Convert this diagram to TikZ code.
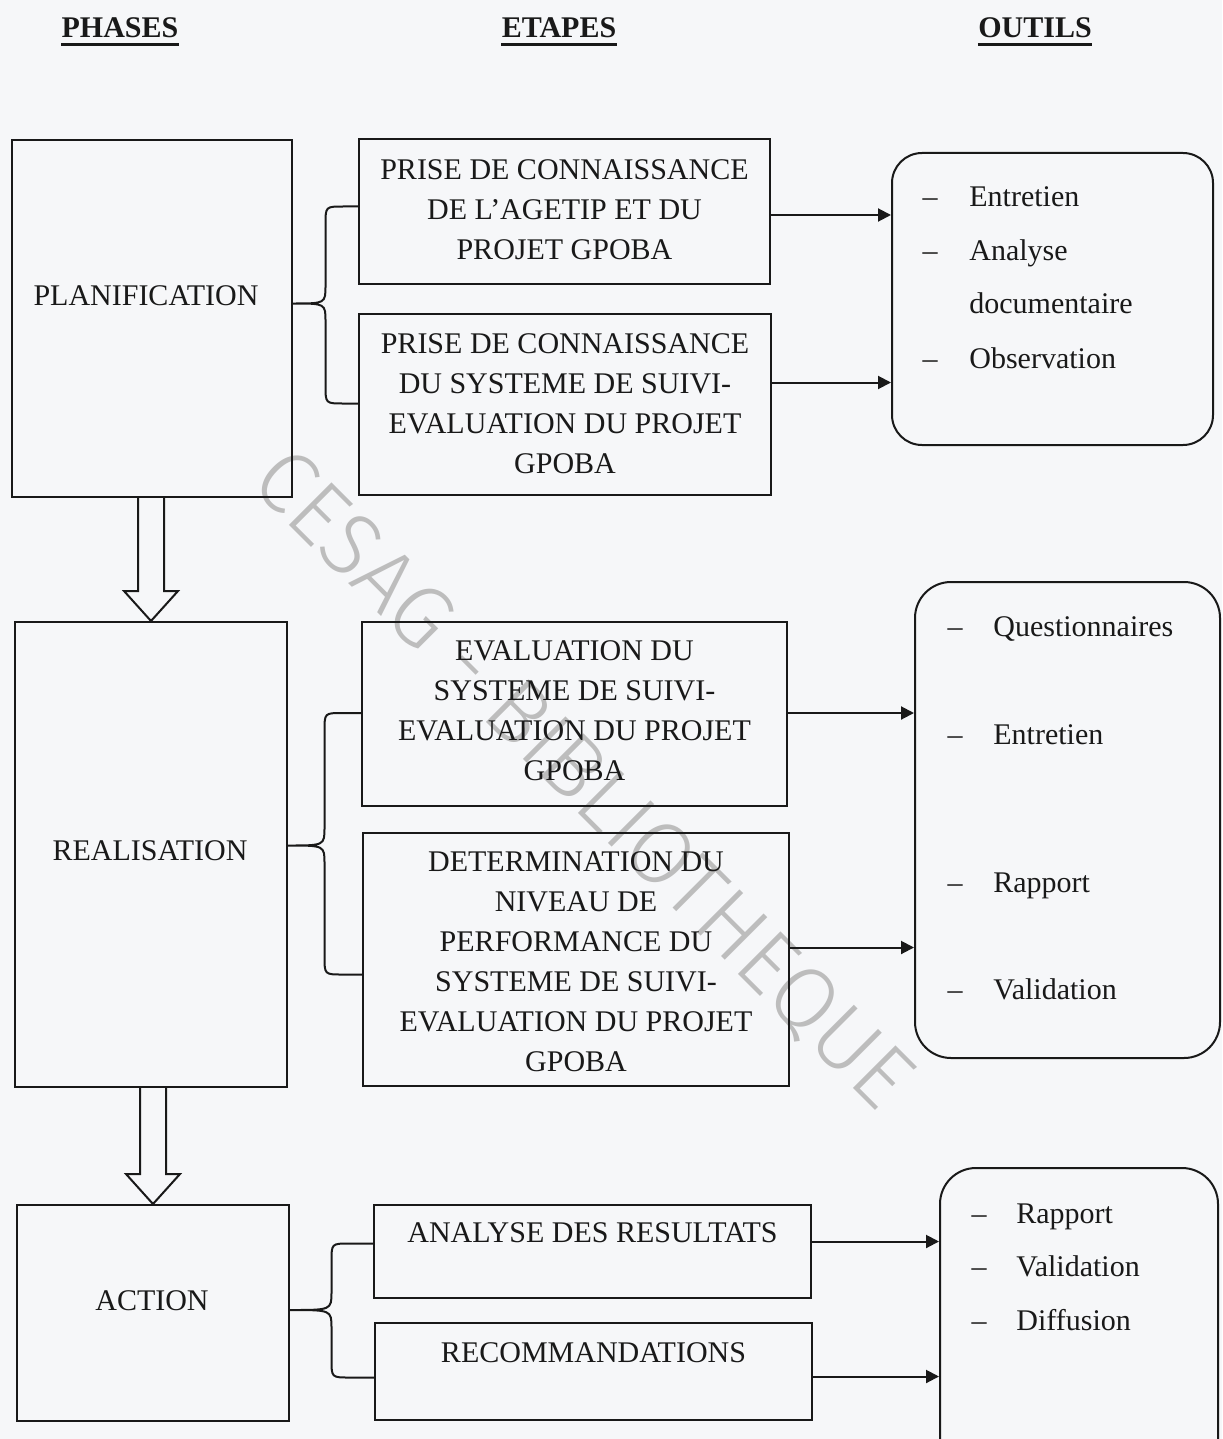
\documentclass[tikz,border=0pt]{standalone}
\usepackage{fontspec}
\usepackage{graphicx}
\setmainfont{Liberation Serif}
\newfontfamily\wmfont{Fira Sans Light}
\usetikzlibrary{calc,fit,arrows.meta}

\definecolor{paper}{rgb}{0.965,0.97,0.978}
\definecolor{ink}{gray}{0.1}
\definecolor{wm}{gray}{0.74}

\tikzset{
  every node/.style={font=\fontsize{15}{20}\selectfont, text=ink},
  hdr/.style={font=\fontsize{15}{20}\selectfont\bfseries, inner sep=0pt},
  box/.style={draw=ink, line width=1pt, inner sep=0pt},
  tool/.style={draw=ink, line width=1pt, inner sep=0pt, rounded corners=#1},
  lbl/.style={inner sep=0pt, align=center},
  conn/.style={draw=ink, line width=1pt, -{Triangle[length=6.5pt,width=6.5pt]}},
  brace/.style={draw=ink, line width=1pt},
  hollow/.style={draw=ink, line width=1pt, line join=miter},
}

% curly brace: #1 tip, #2 upper end, #3 lower end
\newcommand\curlybrace[3]{%
  \coordinate (bv) at ($(#1)!0.5!(#2 |- #1)$);
  \draw[brace] (#2) -- ($(bv |- #2)+(18,0)$) .. controls (bv |- #2) .. ($(bv |- #2)+(0,18)$)
    -- ($(bv)+(0,-18)$) .. controls (bv) .. (#1)
    .. controls (bv) .. ($(bv)+(0,18)$)
    -- ($(bv |- #3)+(0,-18)$) .. controls (bv |- #3) .. ($(bv |- #3)+(18,0)$) -- (#3);
}

% hollow block arrow from the bottom of #1 down to the top of #2
\newcommand\hollowarrow[2]{%
  \draw[hollow] ($(#2 |- #1)+(-13,0)$) -- ($(#2)+(-13,-30)$) -- ($(#2)+(-27,-30)$)
    -- (#2) -- ($(#2)+(27,-30)$) -- ($(#2)+(13,-30)$) -- ($(#2 |- #1)+(13,0)$);
}

% one entry of a tool list: name, dash x, text x, baseline y, text
\newcommand\toolitem[5]{%
  \node[lbl, anchor=base] (#1d) at (#2,#4) {–};
  \node[lbl, anchor=base west] (#1) at (#3,#4) {#5};
}

\begin{document}
\begin{tikzpicture}[x=0.5pt,y=-0.5pt]
\clip (0,0) rectangle (1222,1439);
\fill[paper] (0,0) rectangle (1222,1439);

% watermark
\node[inner sep=0pt, rotate=-45, text=wm] (wmark) at (582,780)
  {\resizebox{445pt}{!}{\wmfont CESAG - BIBLIOTHEQUE}};

% column headers
\node[hdr, anchor=base] (hph) at (120,38) {PHASES};
\node[hdr, anchor=base] (het) at (559,38) {ETAPES};
\node[hdr, anchor=base] (hou) at (1035,38) {OUTILS};
\foreach \h in {hph,het,hou}
  \draw[ink, line width=1.5pt] ($(\h.base west)+(0,7)$) -- ($(\h.base east)+(0,7)$);

% phases
\node[box, fit={(12,140) (292,497)}] (plan) {};
\node[lbl, anchor=base] (planL) at (146,305) {PLANIFICATION};
\node[box, fit={(15,622) (287,1087)}] (real) {};
\node[lbl, anchor=base] (realL) at (150,860) {REALISATION};
\node[box, fit={(17,1205) (289,1421)}] (act) {};
\node[lbl, anchor=base] (actL) at (152,1310) {ACTION};

% steps
\node[box, fit={(359,139) (770,284)}] (e1) {};
\node[lbl] (e1L) at ($(e1.center)+(0,-2)$)
  {PRISE DE CONNAISSANCE\\DE L’AGETIP ET DU\\PROJET GPOBA};
\node[box, fit={(359,314) (771,495)}] (e2) {};
\node[lbl] (e2L) at ($(e2.center)+(0,-1)$)
  {PRISE DE CONNAISSANCE\\DU SYSTEME DE SUIVI-\\EVALUATION DU PROJET\\GPOBA};
\node[box, fit={(362,622) (787,806)}] (e3) {};
\node[lbl] (e3L) at ($(e3.center)+(0,-3)$)
  {EVALUATION DU\\SYSTEME DE SUIVI-\\EVALUATION DU PROJET\\GPOBA};
\node[box, fit={(363,833) (789,1086)}] (e4) {};
\node[lbl] (e4L) at ($(e4.center)+(0,2)$)
  {DETERMINATION DU\\NIVEAU DE\\PERFORMANCE DU\\SYSTEME DE SUIVI-\\EVALUATION DU PROJET\\GPOBA};
\node[box, fit={(374,1205) (811,1298)}] (e5) {};
\node[lbl, anchor=base] (e5L) at ($(e5.north)+(0,38)$) {ANALYSE DES RESULTATS};
\node[box, fit={(375,1323) (812,1420)}] (e6) {};
\node[lbl, anchor=base] (e6L) at ($(e6.north)+(0,40)$) {RECOMMANDATIONS};

% tools
\node[tool=15pt, fit={(892,153) (1213,445)}] (t1) {};
\node[tool=18pt, fit={(915,582) (1220,1058)}] (t2) {};
\node[tool=18pt, fit={(940,1168) (1218,1480)}] (t3) {};

\toolitem{i11}{930}{969}{206}{Entretien}
\toolitem{i12}{930}{969}{261}{Analyse}
\node[lbl, anchor=base west] (i13) at (969,313) {documentaire};
\toolitem{i14}{930}{969}{368}{Observation}

\toolitem{i21}{955}{993}{636}{Questionnaires}
\toolitem{i22}{955}{993}{744}{Entretien}
\toolitem{i23}{955}{993}{892}{Rapport}
\toolitem{i24}{955}{993}{999}{Validation}

\toolitem{i31}{979}{1016}{1223}{Rapport}
\toolitem{i32}{979}{1016}{1276}{Validation}
\toolitem{i33}{979}{1016}{1330}{Diffusion}

% braces from each phase to its steps
\coordinate (b1m) at ($(plan.east)+(0,-15)$);
\coordinate (b1t) at ($(e1.west)+(0,-5)$);
\coordinate (b1b) at ($(e2.west)+(0,-1)$);
\curlybrace{b1m}{b1t}{b1b}
\coordinate (b2m) at ($(real.east)+(0,-9)$);
\coordinate (b2t) at ($(e3.west)+(0,-1)$);
\coordinate (b2b) at ($(e4.west)+(0,15)$);
\curlybrace{b2m}{b2t}{b2b}
\coordinate (b3m) at ($(act.east)+(0,-3)$);
\coordinate (b3t) at ($(e5.west)+(0,-8)$);
\coordinate (b3b) at ($(e6.west)+(0,6)$);
\curlybrace{b3m}{b3t}{b3b}

% arrows from steps to tools
\coordinate (a1) at ($(e1.east)+(0,3.5)$);
\coordinate (a2) at ($(e2.east)+(0,-22)$);
\coordinate (a3) at ($(e3.east)+(0,-1)$);
\coordinate (a4) at ($(e4.east)+(0,-12)$);
\coordinate (a5) at ($(e5.east)+(0,-10)$);
\coordinate (a6) at ($(e6.east)+(0,5)$);
\draw[conn] (a1) -- (a1 -| t1.west);
\draw[conn] (a2) -- (a2 -| t1.west);
\draw[conn] (a3) -- (a3 -| t2.west);
\draw[conn] (a4) -- (a4 -| t2.west);
\draw[conn] (a5) -- (a5 -| t3.west);
\draw[conn] (a6) -- (a6 -| t3.west);

% block arrows between phases
\hollowarrow{plan.south}{real.north}
\hollowarrow{real.south}{act.north}
\end{tikzpicture}
\end{document}
